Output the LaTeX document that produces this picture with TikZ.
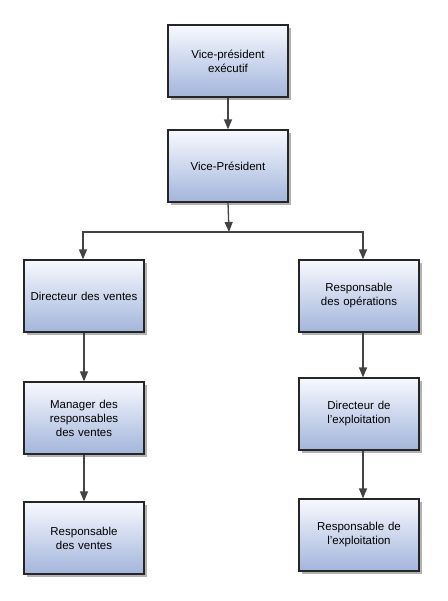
\documentclass[tikz,border=0pt]{standalone}
\usepackage{fontspec}
\setmainfont{Liberation Sans}
\usetikzlibrary{arrows.meta,shadows}
\definecolor{boxtop}{HTML}{F7F9FE}
\definecolor{boxbottom}{HTML}{A3B5DC}
\definecolor{linegray}{HTML}{444444}
\newcommand{\sq}{\symbol{"27}}
\tikzset{
  orgbox/.style={draw=black!85, line width=1.2pt, minimum width=120pt, minimum height=72pt,
    top color=boxtop, bottom color=boxbottom, align=center, text width=112pt,
    font=\fontsize{11.5}{14}\selectfont,
    drop shadow={shadow xshift=3pt, shadow yshift=-3pt, fill=black!30, opacity=1}},
  link/.style={draw=linegray, line width=1.3pt, -{Triangle[width=8pt,length=10pt]}}
}
\begin{document}
\begin{tikzpicture}[x=1pt,y=-1pt]
    \useasboundingbox (0,0) rectangle (447,601);
    \node[orgbox] (vpe) at (228,61) {Vice-président\\exécutif};
    \node[orgbox] (vp) at (228,166) {Vice-Président};
    \coordinate (split) at (229,232);
    % ventes
    \node[orgbox] (dv) at (84,296) {Directeur des ventes};
    \node[orgbox] (mrv) at (84,418) {Manager des\\responsables\\des ventes};
    \node[orgbox] (rv) at (84,538) {Responsable\\des ventes};
    % operations
    \node[orgbox] (ro) at (359,296) {Responsable\\des opérations};
    \node[orgbox] (de) at (359,414) {Directeur de\\l\sq exploitation};
    \node[orgbox] (re) at (359,535) {Responsable de\\l\sq exploitation};

    \draw[link] (vpe) -- (vp);
    \draw[link] (vp.south) -- (split);
    \draw[link] (split) -| ([xshift=-1pt]dv.north);
    \draw[link] (split) -| ([xshift=4pt]ro.north);
    \draw[link] (dv) -- (mrv);
    \draw[link] (mrv) -- (rv);
    \draw[link] ([xshift=4pt]ro.south) -- ([xshift=4pt]de.north);
    \draw[link] ([xshift=4pt]de.south) -- ([xshift=4pt]re.north);
\end{tikzpicture}
\end{document}
